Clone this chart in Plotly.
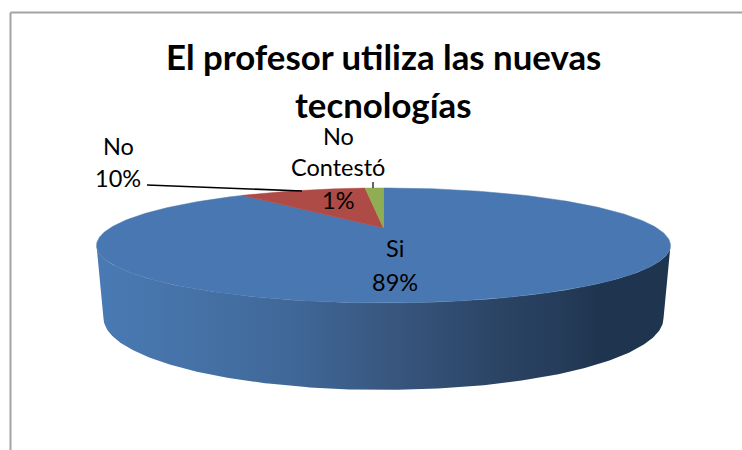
import numpy as np
import plotly.graph_objects as go

# Data
categories = ["Si", "No", "No Contestó"]
values = [89.0, 9.6, 1.4]          # underlying shares (labels rounded to 89 / 10 / 1 %)
pct_labels = ["89%", "10%", "1%"]
title_lines = ["El profesor utiliza las nuevas", "tecnologías"]
slice_colors = ["#4877B1", "#AE4B46", "#8FAD53"]

# Perspective pie geometry (pixels)
W, H = 742, 450
CX = 383.5
K = 0.304
TOP = dict(cy=228.0, A=52.2, B=273.4)
BOT = dict(cy=296.1, A=65.3, B=266.8)
FONT = "Lato"


def project(theta, g):
    """theta measured clockwise from the back of the pie, radians."""
    u, v = np.sin(theta), np.cos(theta)
    d = 1 + K * v
    return CX + g["B"] * u / d, g["cy"] - g["A"] * v / d


fig = go.Figure()


def add_poly(x, y, color=None, gradient=None):
    kw = dict(fillgradient=gradient) if gradient else dict(fillcolor=color)
    fig.add_trace(go.Scatter(
        x=list(x), y=list(y), mode="lines", fill="toself",
        line=dict(color=color or "rgba(0,0,0,0)", width=0.5 if color else 0),
        hoverinfo="skip", showlegend=False, **kw))


# Side wall with horizontal shading
stops_x = [96, 170, 290, 400, 500, 560, 600, 670]
stops_c = ["#4A7AB4", "#4674AA", "#406898", "#37557D", "#2B4464", "#253C5A", "#1F344E", "#1F344E"]
th0 = np.arccos(-K)
seg = np.linspace(th0, 2 * np.pi - th0, 240)
xt, yt = project(seg, TOP)
xb, yb = project(seg[::-1], BOT)
span = stops_x[-1] - stops_x[0]
add_poly(np.r_[xt, xb, xt[0]], np.r_[yt, yb, yt[0]], gradient=dict(
    type="horizontal", start=stops_x[0], stop=stops_x[-1],
    colorscale=[[(sx - stops_x[0]) / span, c] for sx, c in zip(stops_x, stops_c)]))

# Top face slices
start = 0.0
total = sum(values)
# Slices run clockwise from the back: Si first
for cat, val, col in zip(categories, values, slice_colors):
    sweep = val / total * 2 * np.pi
    th = np.linspace(start, start + sweep, max(int(val * 4), 12))
    x, y = project(th, TOP)
    add_poly(np.r_[CX, x, CX], np.r_[TOP["cy"], y, TOP["cy"]], col)
    start += sweep

# Leader lines and chart frame
shapes = [
    dict(type="line", x0=147, y0=185, x1=302, y1=191, line=dict(color="#000", width=1.6)),
    dict(type="line", x0=373, y0=182, x1=373, y1=188, line=dict(color="#000", width=1.2)),
    dict(type="line", x0=10.5, y0=12.5, x1=742, y1=12.5, line=dict(color="#A3A3A3", width=2)),
    dict(type="line", x0=10.5, y0=12.5, x1=10.5, y1=450, line=dict(color="#A3A3A3", width=2)),
]

annotations = []


def text(x, y, s, size=23.5, bold=False):
    annotations.append(dict(x=x, y=y, text=("<b>%s</b>" % s) if bold else s, showarrow=False,
                            xanchor="center", yanchor="middle",
                            font=dict(family=FONT, size=size, color="#000")))


text(383, 56, title_lines[0], size=34.8, bold=True)
text(383, 104, title_lines[1], size=34.8, bold=True)
text(118, 146, categories[1])
text(118, 178, pct_labels[1])
text(338, 136, "No")
text(338, 167, "Contestó")
text(338, 200, pct_labels[2])
text(395, 248, categories[0])
text(395, 282, pct_labels[0])

fig.update_layout(
    width=W, height=H, margin=dict(l=0, r=0, t=0, b=0),
    paper_bgcolor="white", plot_bgcolor="white", showlegend=False,
    xaxis=dict(range=[0, W], visible=False, fixedrange=True),
    yaxis=dict(range=[H, 0], visible=False, fixedrange=True),
    shapes=shapes, annotations=annotations)
fig.write_html("out.html", config={"displayModeBar": False},
               post_script="document.body.style.margin='0';document.body.style.overflow='hidden';")
